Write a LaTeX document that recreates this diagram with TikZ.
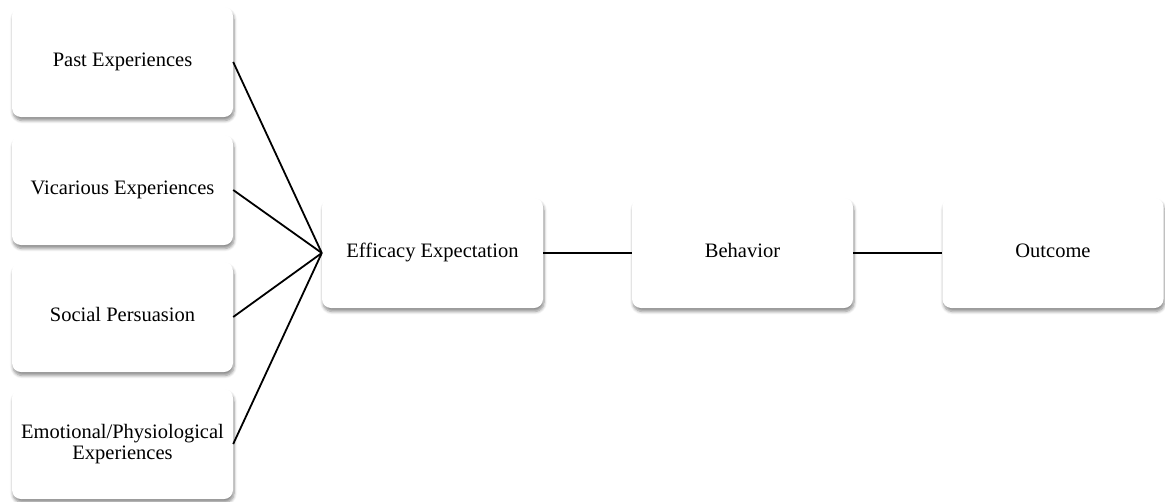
\documentclass[tikz,border=0pt]{standalone}
\usepackage{fontspec}
\setmainfont{Liberation Serif}
\usetikzlibrary{shadows.blur}
\begin{document}
\begin{tikzpicture}[x=1pt,y=-1pt,
  box/.style={fill=white, draw=none, rounded corners=9pt, minimum width=221pt, minimum height=110pt,
    inner sep=0pt, align=center, font=\fontsize{20.5}{21}\selectfont,
    blur shadow={shadow xshift=1pt, shadow yshift=-3.5pt, shadow blur steps=6, shadow blur radius=3pt, shadow opacity=45}},
  one/.style={box, text height=14pt, text depth=4.5pt},
  link/.style={line width=1.8pt, black}]
\useasboundingbox (0,0) rectangle (1165,501);
\node[one] (past) at (122.5,62) {Past Experiences};
\node[one] (vic) at (122.5,190) {Vicarious Experiences};
\node[one] (soc) at (122.5,317) {Social Persuasion};
\node[box] (emo) at (122.5,444) {Emotional/Physiological\\Experiences};
\node[one] (eff) at (432.5,253) {Efficacy Expectation};
\node[one] (beh) at (742.5,253) {Behavior};
\node[one] (out) at (1053,253) {Outcome};
\draw[link] (past.east) -- (eff.west);
\draw[link] (vic.east) -- (eff.west);
\draw[link] (soc.east) -- (eff.west);
\draw[link] (emo.east) -- (eff.west);
\draw[link] (eff.east) -- (beh.west);
\draw[link] (beh.east) -- (out.west);
\end{tikzpicture}
\end{document}
